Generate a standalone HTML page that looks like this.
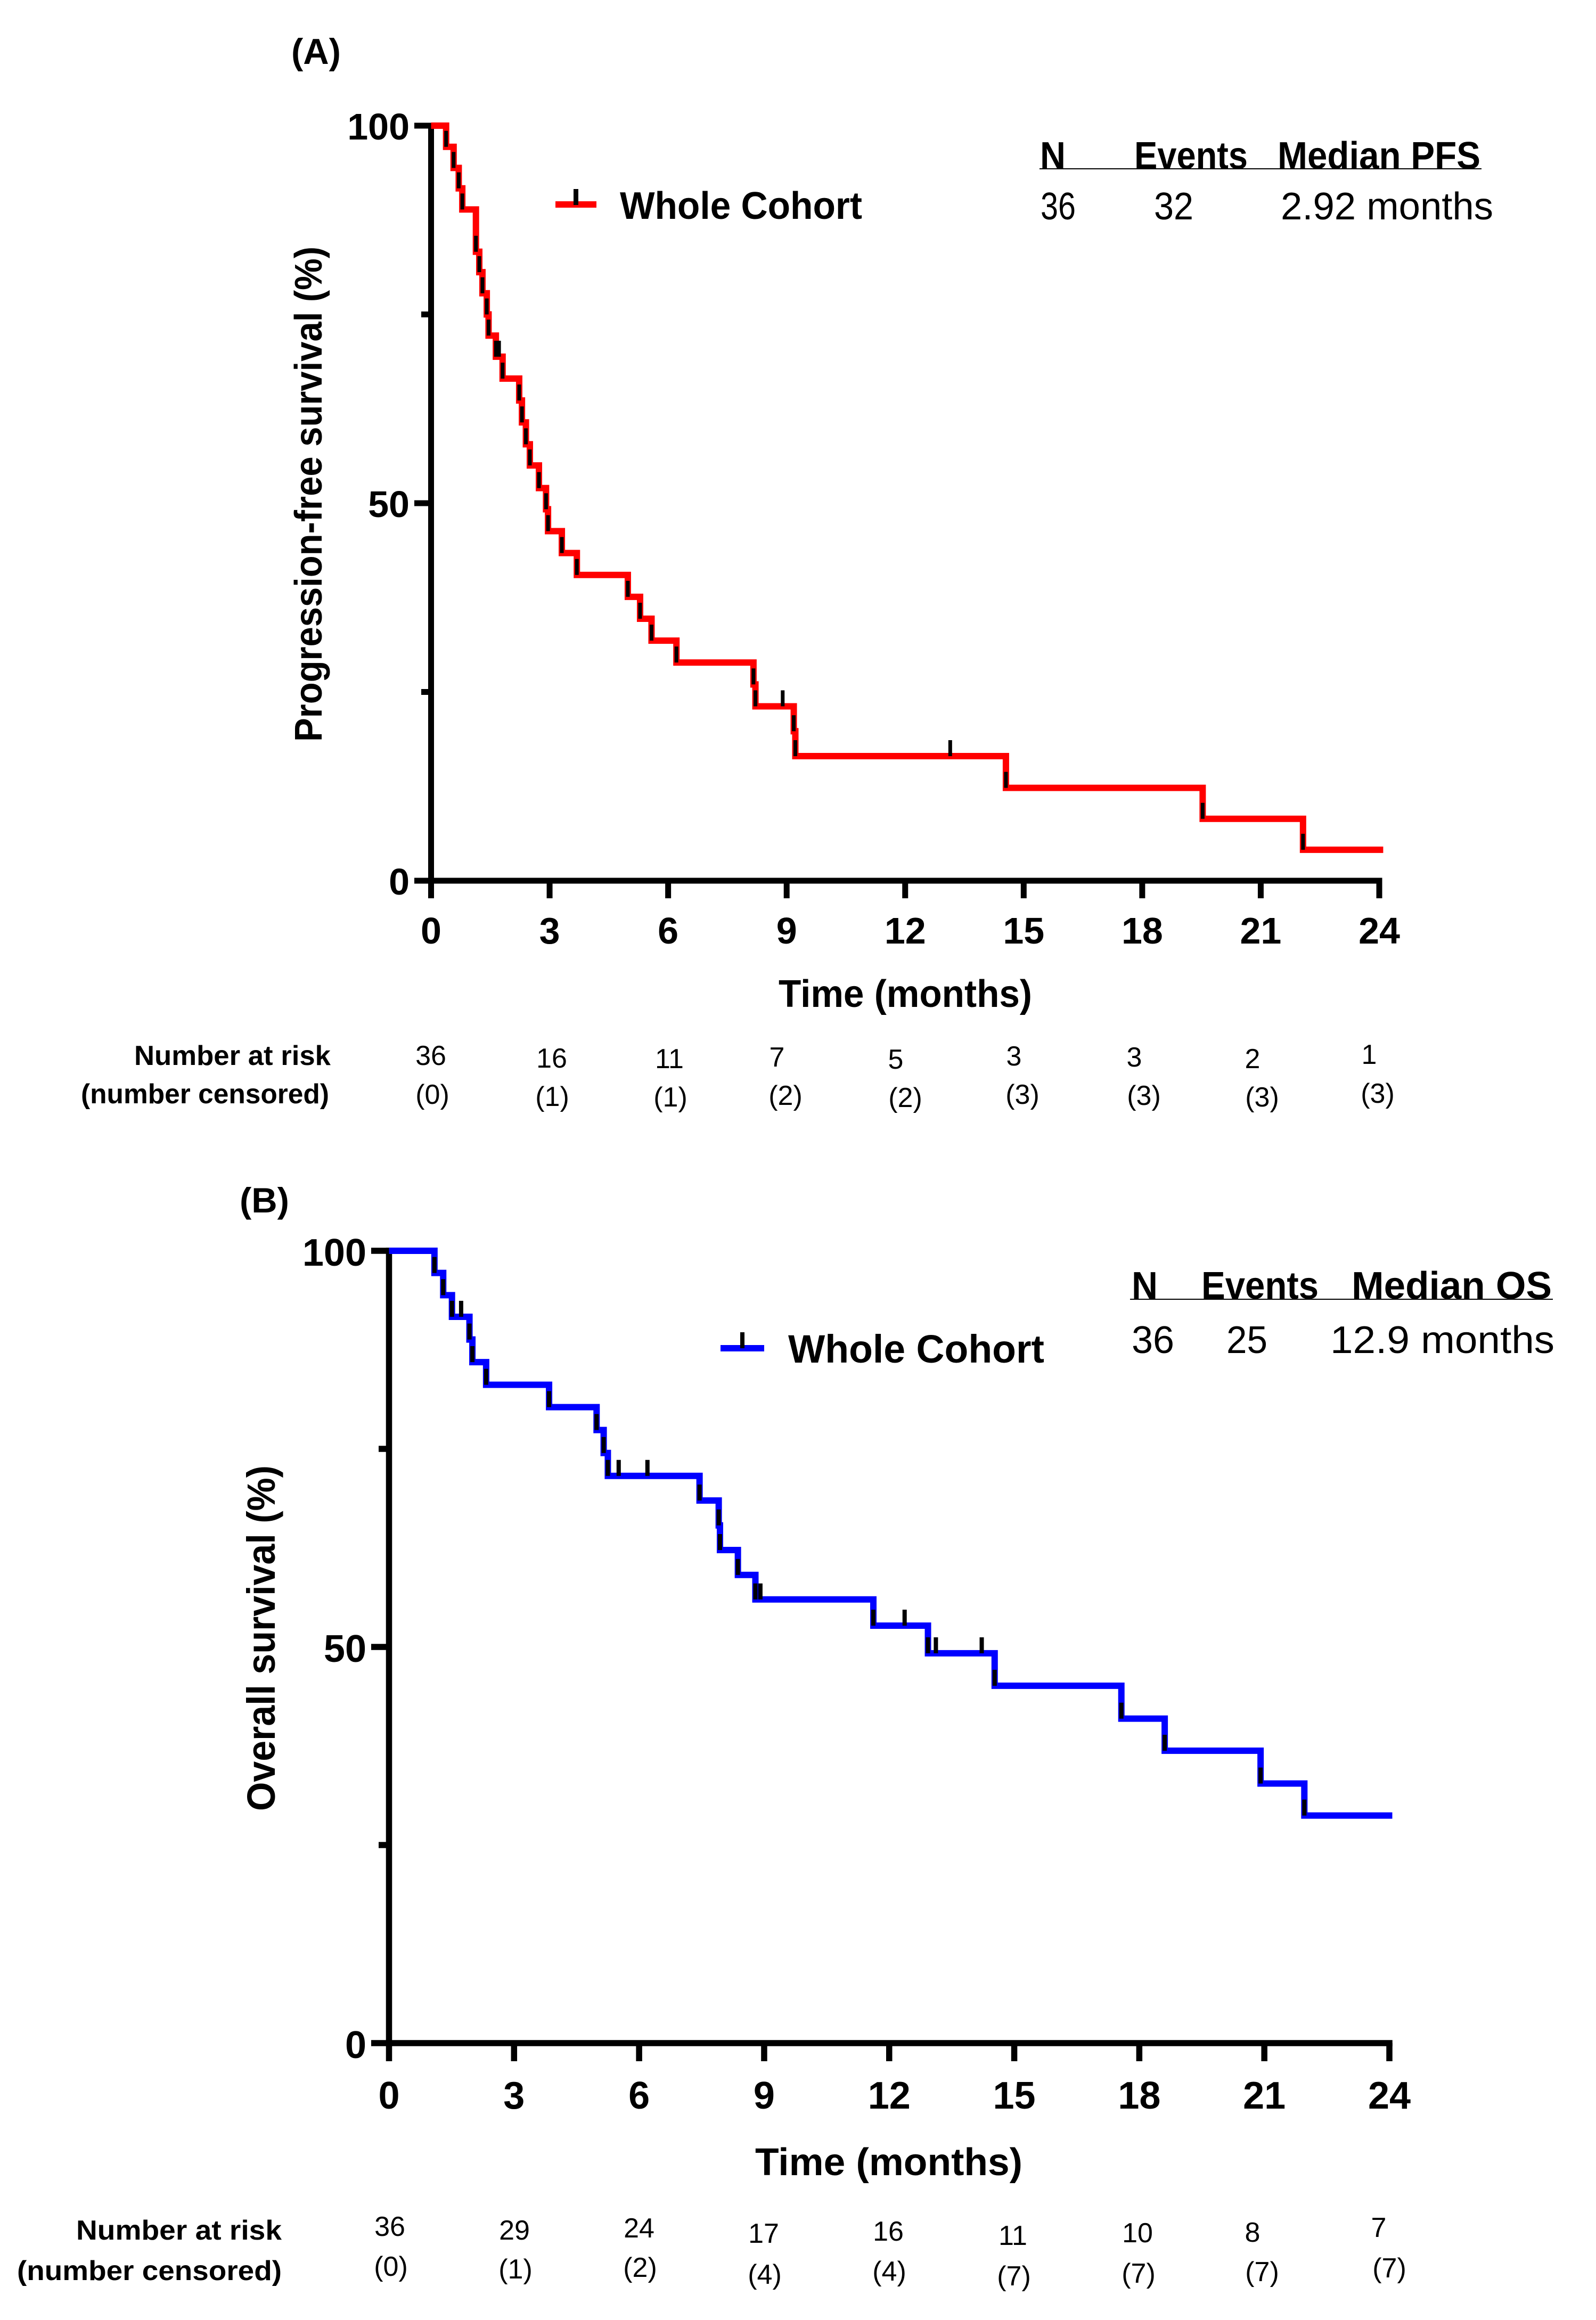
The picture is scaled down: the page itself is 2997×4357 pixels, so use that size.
<!DOCTYPE html>
<html lang="en">
<head>
<meta charset="utf-8">
<title>Progression-free and overall survival curves</title>
<style>
html,body{margin:0;padding:0;background:#fff}
svg{display:block}
text{font-family:"Liberation Sans",sans-serif;fill:#000}
.b{font-weight:700}
.t{font-size:72px}
.r{font-size:52px}
.rb{font-size:52px;font-weight:700}
</style>
</head>
<body>
<svg id="figure" xmlns="http://www.w3.org/2000/svg" width="2997" height="4357" viewBox="0 0 2997 4357">
<rect x="0" y="0" width="2997" height="4357" fill="#fff"/>

<g id="panelA"></g>
<g id="panelB"></g>

<!-- Panel A static text -->
<text class="b" x="547" y="120" font-size="68" textLength="93" lengthAdjust="spacingAndGlyphs">(A)</text>
<text class="b" font-size="72" transform="translate(604,1393) rotate(-90)" textLength="930" lengthAdjust="spacingAndGlyphs">Progression-free survival (%)</text>
<text class="b" x="1462" y="1891" font-size="72" textLength="476" lengthAdjust="spacingAndGlyphs">Time (months)</text>
<rect x="1043" y="378" width="77" height="12" fill="#ff0000"/>
<rect x="1077" y="355" width="9" height="30" fill="#000"/>
<text class="b" x="1164" y="411" font-size="72" textLength="455" lengthAdjust="spacingAndGlyphs">Whole Cohort</text>
<text class="b t" x="1953" y="317" textLength="48" lengthAdjust="spacingAndGlyphs">N</text>
<text class="b t" x="2130" y="317" textLength="213" lengthAdjust="spacingAndGlyphs">Events</text>
<text class="b t" x="2399" y="317" textLength="381" lengthAdjust="spacingAndGlyphs">Median PFS</text>
<rect x="1952" y="316" width="830" height="2" fill="#000"/>
<text class="t" x="1954" y="412" textLength="66" lengthAdjust="spacingAndGlyphs">36</text>
<text class="t" x="2167" y="412" textLength="74" lengthAdjust="spacingAndGlyphs">32</text>
<text class="t" x="2405" y="412" textLength="399" lengthAdjust="spacingAndGlyphs">2.92 months</text>
<text class="rb" x="252" y="2000" textLength="369" lengthAdjust="spacingAndGlyphs">Number at risk</text>
<text class="rb" x="152" y="2072" textLength="466" lengthAdjust="spacingAndGlyphs">(number censored)</text>
<g class="r" text-anchor="middle">
<text class="r" x="809" y="2000">36</text>
<text class="r" x="1036" y="2005">16</text>
<text class="r" x="1257" y="2006">11</text>
<text class="r" x="1459" y="2003">7</text>
<text class="r" x="1682" y="2007">5</text>
<text class="r" x="1904" y="2001">3</text>
<text class="r" x="2130" y="2003">3</text>
<text class="r" x="2352" y="2006">2</text>
<text class="r" x="2571" y="1998">1</text>
<text class="r" x="812" y="2073">(0)</text>
<text class="r" x="1037" y="2077">(1)</text>
<text class="r" x="1259" y="2078">(1)</text>
<text class="r" x="1475" y="2075">(2)</text>
<text class="r" x="1700" y="2079">(2)</text>
<text class="r" x="1920" y="2073">(3)</text>
<text class="r" x="2148" y="2075">(3)</text>
<text class="r" x="2370" y="2078">(3)</text>
<text class="r" x="2587" y="2071">(3)</text>
</g>

<!-- Panel B static text -->
<text class="b" x="450" y="2277" font-size="66" textLength="93" lengthAdjust="spacingAndGlyphs">(B)</text>
<text class="b" font-size="74" transform="translate(516,3401) rotate(-90)" textLength="649" lengthAdjust="spacingAndGlyphs">Overall survival (%)</text>
<text class="b" x="1418" y="4085" font-size="72" textLength="502" lengthAdjust="spacingAndGlyphs">Time (months)</text>
<rect x="1353" y="2526" width="82" height="12" fill="#0000ff"/>
<rect x="1390" y="2502" width="8" height="30" fill="#000"/>
<text class="b" x="1480" y="2559" font-size="74" textLength="481" lengthAdjust="spacingAndGlyphs">Whole Cohort</text>
<text class="b t" x="2125" y="2439" textLength="49" lengthAdjust="spacingAndGlyphs">N</text>
<text class="b t" x="2256" y="2439" textLength="220" lengthAdjust="spacingAndGlyphs">Events</text>
<text class="b t" x="2538" y="2439" textLength="376" lengthAdjust="spacingAndGlyphs">Median OS</text>
<rect x="2122" y="2439" width="794" height="2" fill="#000"/>
<text class="t" x="2125" y="2541" textLength="80" lengthAdjust="spacingAndGlyphs">36</text>
<text class="t" x="2303" y="2541" textLength="77" lengthAdjust="spacingAndGlyphs">25</text>
<text class="t" x="2498" y="2541" textLength="421" lengthAdjust="spacingAndGlyphs">12.9 months</text>
<text class="rb" x="143" y="4206" textLength="386" lengthAdjust="spacingAndGlyphs">Number at risk</text>
<text class="rb" x="32" y="4282" textLength="497" lengthAdjust="spacingAndGlyphs">(number censored)</text>
<g class="r" text-anchor="middle">
<text class="r" x="732" y="4199">36</text>
<text class="r" x="966" y="4206">29</text>
<text class="r" x="1200" y="4202">24</text>
<text class="r" x="1434" y="4212">17</text>
<text class="r" x="1668" y="4208">16</text>
<text class="r" x="1902" y="4216">11</text>
<text class="r" x="2136" y="4211">10</text>
<text class="r" x="2352" y="4210">8</text>
<text class="r" x="2589" y="4201">7</text>
<text class="r" x="734" y="4274">(0)</text>
<text class="r" x="968" y="4279">(1)</text>
<text class="r" x="1202" y="4276">(2)</text>
<text class="r" x="1436" y="4289">(4)</text>
<text class="r" x="1670" y="4283">(4)</text>
<text class="r" x="1904" y="4292">(7)</text>
<text class="r" x="2138" y="4287">(7)</text>
<text class="r" x="2370" y="4284">(7)</text>
<text class="r" x="2609" y="4277">(7)</text>
</g>
</svg>

<script>
const xTickValues = [0, 3, 6, 9, 12, 15, 18, 21, 24];
const yLabelValues = [0, 50, 100];
const yMinorValues = [25, 75];

const pfsEventTimes = [0.38, 0.57, 0.70, 0.79, 1.135, 1.22, 1.30, 1.41, 1.455, 1.64, 1.81, 2.23, 2.30, 2.40, 2.50, 2.73, 2.91, 2.96, 3.31, 3.69, 4.98, 5.29, 5.58, 6.21, 8.16, 8.21, 9.18, 9.22, 14.55, 19.53, 22.07];
const pfsSurvival = [97.2, 94.4, 91.7, 88.9, 83.3, 80.6, 77.8, 75.0, 72.2, 69.4, 66.5, 63.6, 60.7, 57.8, 55.0, 52.0, 49.2, 46.3, 43.4, 40.5, 37.6, 34.7, 31.8, 28.9, 26.0, 23.1, 19.8, 16.5, 12.3, 8.2, 4.1];
const pfsCensorTimes = [1.72, 8.9, 13.14];
const pfsEndTime = 24.1;

const osEventTimes = [1.09, 1.30, 1.51, 1.93, 2.0, 2.33, 3.84, 4.98, 5.15, 5.25, 7.45, 7.91, 7.94, 8.37, 8.79, 11.62, 12.93, 14.53, 17.57, 18.61, 20.91, 21.96];
const osSurvival = [97.2, 94.4, 91.67, 88.8, 85.95, 83.09, 80.27, 77.38, 74.48, 71.59, 68.48, 65.34, 62.23, 59.09, 56.0, 52.69, 49.2, 45.1, 40.95, 36.9, 32.76, 28.72];
const osCensorTimes = [1.73, 5.51, 6.2, 8.91, 12.37, 13.12, 14.22];
const osEndTime = 24.07;

const SVGNS = 'http://www.w3.org/2000/svg';

function levelAt(t, times, surv) {
  let level = 100;
  for (let i = 0; i < times.length; i++) {
    if (times[i] <= t) level = surv[i];
  }
  return level;
}

function drawPanel(p) {
  const root = document.getElementById(p.id);
  const sx = t => p.x0 + (p.x24 - p.x0) * t / 24;
  const sy = v => p.y0 + (p.y100 - p.y0) * v / 100;
  const id = p.key;

  const yAxis = document.createElementNS(SVGNS, 'rect');
  
  
  yAxis.setAttribute('x', p.x0 - p.axisW / 2);
  yAxis.setAttribute('y', sy(100) - p.axisW / 2);
  yAxis.setAttribute('width', p.axisW);
  yAxis.setAttribute('height', sy(0) - sy(100) + p.axisW);
  root.appendChild(yAxis);

  const xAxis = document.createElementNS(SVGNS, 'rect');
  
  
  xAxis.setAttribute('x', p.tickLeft);
  xAxis.setAttribute('y', sy(0) - p.axisW / 2);
  xAxis.setAttribute('width', sx(24) + p.axisW / 2 - p.tickLeft);
  xAxis.setAttribute('height', p.axisW);
  root.appendChild(xAxis);

  xTickValues.forEach(v => {
    const tick = document.createElementNS(SVGNS, 'rect');
    
    
    tick.setAttribute('x', sx(v) - p.axisW / 2);
    tick.setAttribute('y', sy(0));
    tick.setAttribute('width', p.axisW);
    tick.setAttribute('height', p.xTickLen);
    root.appendChild(tick);

    const label = document.createElementNS(SVGNS, 'text');
    
    
    label.setAttribute('class', 'b');
    label.setAttribute('x', sx(v));
    label.setAttribute('y', p.xLabelY);
    label.setAttribute('font-size', p.labelSize);
    label.setAttribute('text-anchor', 'middle');
    label.textContent = String(v);
    root.appendChild(label);
  });

  yLabelValues.forEach(v => {
    if (v !== 0) {
      const tick = document.createElementNS(SVGNS, 'rect');
      
      
      tick.setAttribute('x', p.tickLeft);
      tick.setAttribute('y', sy(v) - p.axisW / 2);
      tick.setAttribute('width', p.x0 - p.tickLeft);
      tick.setAttribute('height', p.axisW);
      root.appendChild(tick);
    }
    const label = document.createElementNS(SVGNS, 'text');
    
    
    label.setAttribute('class', 'b');
    label.setAttribute('x', p.yLabelX);
    label.setAttribute('y', sy(v) + p.yLabelDy);
    label.setAttribute('font-size', p.labelSize);
    label.setAttribute('text-anchor', 'end');
    label.textContent = String(v);
    root.appendChild(label);
  });

  yMinorValues.forEach(v => {
    const tick = document.createElementNS(SVGNS, 'rect');
    
    
    tick.setAttribute('x', p.minorLeft);
    tick.setAttribute('y', sy(v) - p.axisW / 2);
    tick.setAttribute('width', p.x0 - p.minorLeft);
    tick.setAttribute('height', p.axisW);
    root.appendChild(tick);
  });

  let d = 'M' + sx(0) + ' ' + sy(100);
  p.times.forEach((t, i) => {
    d += ' H' + sx(t) + ' V' + sy(p.surv[i]);
  });
  d += ' H' + sx(p.end);
  const curve = document.createElementNS(SVGNS, 'path');
  
  
  curve.setAttribute('d', d);
  curve.setAttribute('fill', 'none');
  curve.setAttribute('stroke', p.color);
  curve.setAttribute('stroke-width', 12);
  curve.setAttribute('stroke-linejoin', 'miter');
  root.appendChild(curve);

  p.times.forEach((t, i) => {
    const mark = document.createElementNS(SVGNS, 'rect');
    
    
    mark.setAttribute('x', sx(t) - p.markW / 2);
    mark.setAttribute('y', sy(p.surv[i]) - 30);
    mark.setAttribute('width', p.markW);
    mark.setAttribute('height', 30);
    root.appendChild(mark);
  });

  p.censor.forEach((t, i) => {
    const mark = document.createElementNS(SVGNS, 'rect');
    
    
    mark.setAttribute('x', sx(t) - p.markW / 2);
    mark.setAttribute('y', sy(levelAt(t, p.times, p.surv)) - 30);
    mark.setAttribute('width', p.markW);
    mark.setAttribute('height', 30);
    root.appendChild(mark);
  });
}

drawPanel({
  id: 'panelA', key: 'a', color: '#ff0000',
  x0: 809.5, x24: 2590, y0: 1654, y100: 236,
  axisW: 11, tickLeft: 778, minorLeft: 791, xTickLen: 33,
  xLabelY: 1772, yLabelX: 769, yLabelDy: 26, labelSize: 70, markW: 7,
  times: pfsEventTimes, surv: pfsSurvival, censor: pfsCensorTimes, end: pfsEndTime
});

drawPanel({
  id: 'panelB', key: 'b', color: '#0000ff',
  x0: 730.5, x24: 2609, y0: 3837, y100: 2349,
  axisW: 11.5, tickLeft: 697, minorLeft: 711, xTickLen: 34,
  xLabelY: 3960, yLabelX: 688, yLabelDy: 28, labelSize: 72, markW: 8,
  times: osEventTimes, surv: osSurvival, censor: osCensorTimes, end: osEndTime
});
</script>
</body>
</html>
